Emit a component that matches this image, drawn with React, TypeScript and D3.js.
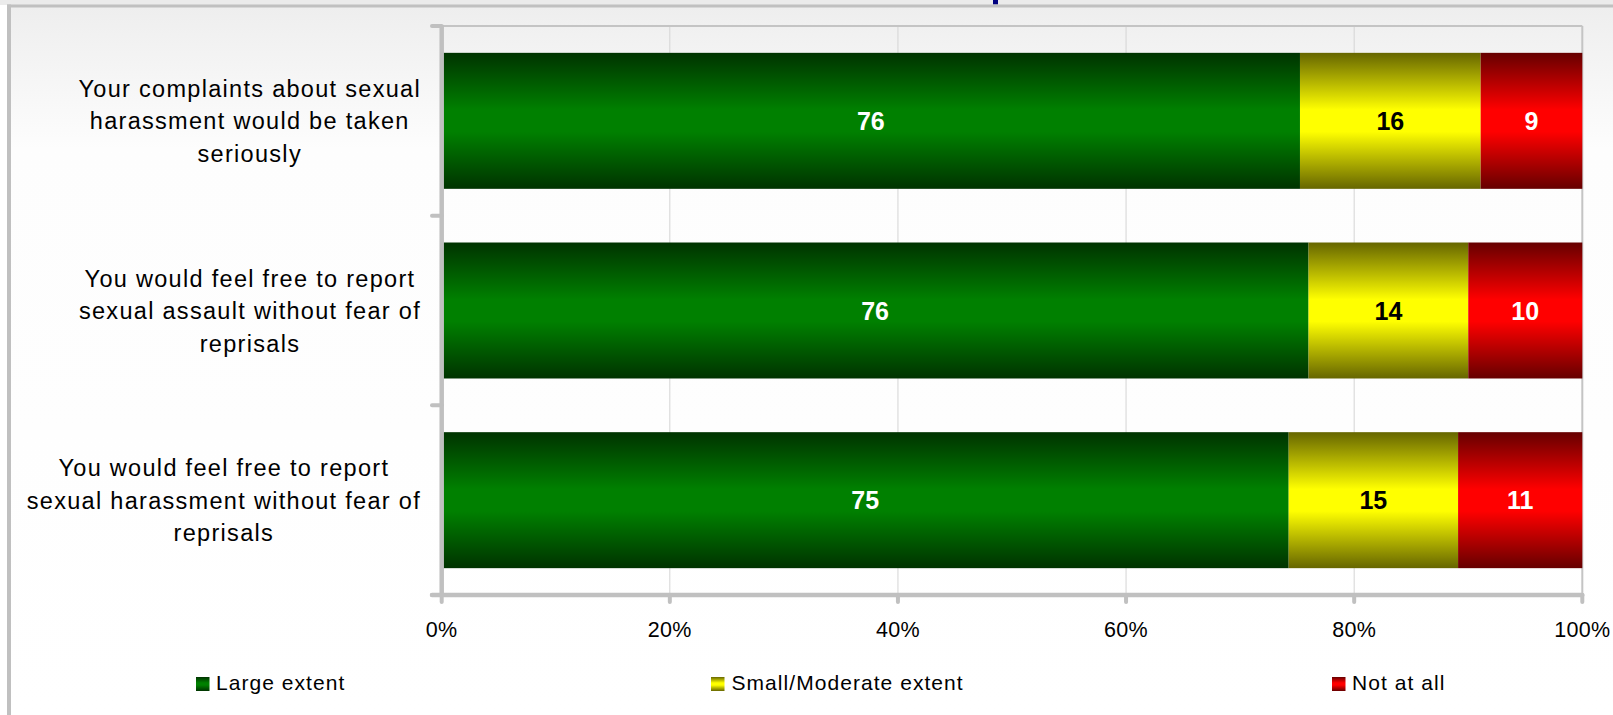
import React, { useLayoutEffect, useRef, useState } from "react";
import * as d3 from "d3";

const categories = [
  "Your complaints about sexual harassment would be taken seriously",
  "You would feel free to report sexual assault without fear of reprisals",
  "You would feel free to report sexual harassment without fear of reprisals",
];
const categoryLines = [
  ["Your complaints about sexual", "harassment would be taken", "seriously"],
  ["You would feel free to report", "sexual assault without fear of", "reprisals"],
  ["You would feel free to report", "sexual harassment without fear of", "reprisals"],
];
const largeExtent = [76, 76, 75];
const smallModerate = [16, 14, 15];
const notAtAll = [9, 10, 11];
const seriesNames = ["Large extent", "Small/Moderate extent", "Not at all"];
const xTicks = [0, 0.2, 0.4, 0.6, 0.8, 1];

const W = 1613;
const H = 715;
const FONT = "'Liberation Sans', Arial, Helvetica, sans-serif";

const seriesStyle = [
  { id: "gGreen", dark: "#003300", bright: "#008000", label: "#ffffff" },
  { id: "gYellow", dark: "#666600", bright: "#ffff00", label: "#000000" },
  { id: "gRed", dark: "#660000", bright: "#ff0000", label: "#ffffff" },
];

export default function App() {
  const keys = ["large", "small", "not"];
  const rows = categories.map((c, i) => ({
    cat: c,
    large: largeExtent[i],
    small: smallModerate[i],
    not: notAtAll[i],
  }));
  const stacked = d3.stack<any>().keys(keys).offset(d3.stackOffsetExpand)(rows);

  const x = d3.scaleLinear().domain([0, 1]).range([441.7, 1582.3]);
  const y = d3
    .scaleBand<string>()
    .domain(categories)
    .range([26, 595])
    .paddingInner(0.283)
    .paddingOuter(0.1415);
  const fmt = d3.format(".0%");
  const step = y.step();
  const bottom = 595;
  const top = 26;

  const labelRefs = useRef<(SVGTextElement | null)[]>([]);
  const [labelX, setLabelX] = useState<number[]>([250, 250, 250]);
  useLayoutEffect(() => {
    const xs = labelRefs.current.map((el) => {
      if (!el) return 250;
      const w = el.getBBox().width;
      return 421 - w / 2;
    });
    setLabelX(xs);
  }, []);

  const legendPos = [
    { mx: 196, tx: 216 },
    { mx: 711, tx: 731.5 },
    { mx: 1332, tx: 1352 },
  ];

  return (
    <div style={{ position: "absolute", left: 0, top: 0 }}>
      <svg width={W} height={H} style={{ display: "block", fontFamily: FONT }}>
        <defs>
          {seriesStyle.map((s) => (
            <linearGradient key={s.id} id={s.id} x1="0" y1="0" x2="0" y2="1">
              <stop offset="0" stopColor={s.dark} />
              <stop offset="0.42" stopColor={s.bright} />
              <stop offset="0.58" stopColor={s.bright} />
              <stop offset="1" stopColor={s.dark} />
            </linearGradient>
          ))}
          <linearGradient id="bgGrad" x1="0" y1="0" x2="0" y2="1">
            <stop offset="0" stopColor="#eeeeee" />
            <stop offset="0.2" stopColor="#fdfdfd" />
            <stop offset="1" stopColor="#ffffff" />
          </linearGradient>
        </defs>

        {/* outer background */}
        <rect x={0} y={0} width={W} height={5} fill="#ebebeb" />
        <rect x={9} y={7} width={W - 9} height={H - 7} fill="url(#bgGrad)" />
        <rect x={993} y={0} width={5} height={4.5} fill="#000080" />
        <rect x={7} y={4.5} width={W - 7} height={3} fill="#c0c0c0" />
        <rect x={7} y={4.5} width={4} height={H - 4.5} fill="#c0c0c0" />

        {/* gridlines */}
        {xTicks.slice(1, -1).map((t) => (
          <line key={t} x1={x(t)} x2={x(t)} y1={top} y2={bottom} stroke="#d4d4d4" strokeWidth={1} />
        ))}
        <line x1={x(1)} x2={x(1)} y1={top} y2={bottom} stroke="#c4c4c4" strokeWidth={2} />
        <line x1={x(0)} x2={x(1)} y1={top} y2={top} stroke="#c4c4c4" strokeWidth={2} />

        {/* bars */}
        {stacked.map((layer, si) =>
          layer.map((d, i) => {
            const cat = categories[i];
            const x0 = x(d[0]);
            const x1 = x(d[1]);
            const yy = y(cat)!;
            const bw = y.bandwidth();
            const val = [largeExtent, smallModerate, notAtAll][si][i];
            return (
              <g key={`${si}-${i}`}>
                <rect x={x0} y={yy} width={x1 - x0} height={bw} fill={`url(#${seriesStyle[si].id})`} />
                <text
                  x={(x0 + x1) / 2}
                  y={yy + bw / 2}
                  dy="0.36em"
                  textAnchor="middle"
                  fontWeight="bold"
                  fontSize={25}
                  fill={seriesStyle[si].label}
                >
                  {val}
                </text>
              </g>
            );
          })
        )}

        {/* axes */}
        <line x1={x(0)} x2={x(0)} y1={top - 1} y2={bottom + 2} stroke="#c0c0c0" strokeWidth={4.5} />
        {[0, 1, 2, 3].map((k) => (
          <line
            key={k}
            x1={432}
            x2={x(0)}
            y1={top + k * step}
            y2={top + k * step}
            stroke="#c0c0c0"
            strokeWidth={4}
            strokeLinecap="round"
          />
        ))}
        <line x1={432} x2={x(1)} y1={bottom} y2={bottom} stroke="#c0c0c0" strokeWidth={4.5} strokeLinecap="round" />
        {xTicks.map((t) => (
          <g key={t}>
            <line x1={x(t)} x2={x(t)} y1={bottom} y2={602} stroke="#c0c0c0" strokeWidth={4} strokeLinecap="round" />
            <text x={x(t)} y={636.5} textAnchor="middle" fontSize={21.5} fill="#000" letterSpacing={0.3}>
              {fmt(t)}
            </text>
          </g>
        ))}

        {/* category labels */}
        {categoryLines.map((lines, i) => {
          const cy = y(categories[i])! + y.bandwidth() / 2;
          const lh = 32.5;
          return (
            <text
              key={i}
              ref={(el) => {
                labelRefs.current[i] = el;
              }}
              x={labelX[i]}
              textAnchor="middle"
              fontSize={23.5}
              letterSpacing={1.3}
              fill="#000"
            >
              {lines.map((ln, j) => (
                <tspan key={j} x={labelX[i]} y={cy + 8.5 + (j - 1) * lh}>
                  {ln}
                </tspan>
              ))}
            </text>
          );
        })}

        {/* legend */}
        {seriesNames.map((n, i) => (
          <g key={n}>
            <rect x={legendPos[i].mx} y={677} width={13.5} height={14} fill={`url(#${seriesStyle[i].id})`} />
            <text x={legendPos[i].tx} y={690} fontSize={21} letterSpacing={1.05} fill="#000">
              {n}
            </text>
          </g>
        ))}
      </svg>
    </div>
  );
}
